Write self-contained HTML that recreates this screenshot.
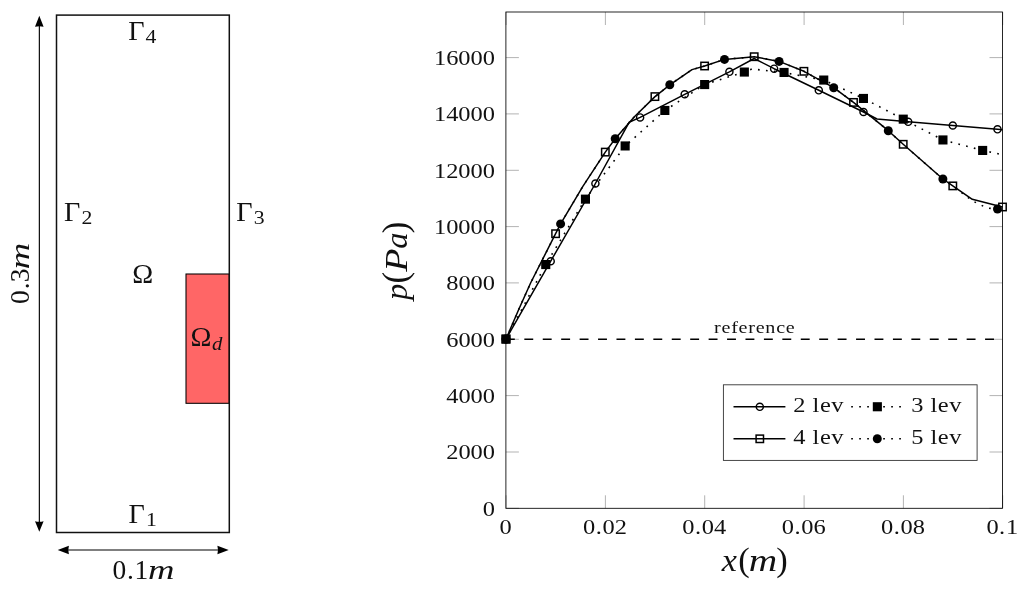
<!DOCTYPE html>
<html><head><meta charset="utf-8"><title>figure</title>
<style>
html,body{margin:0;padding:0;background:#fff;}
svg{display:block;font-family:"Liberation Serif",serif;will-change:transform;}
</style></head><body>
<svg width="1024" height="589" viewBox="0 0 1024 589">
<rect x="0" y="0" width="1024" height="589" fill="#fff"/>

<rect x="186.0" y="274.0" width="43.2" height="129.3" fill="#ff6666" stroke="#000" stroke-width="1.05"/>
<rect x="56.5" y="15.1" width="172.8" height="517.4" fill="none" stroke="#111" stroke-width="1.5"/>
<line x1="39.35" y1="24" x2="39.35" y2="524" stroke="#000" stroke-width="1.15"/>
<path d="M39.3 15.8 L43.6 26.8 Q39.3 25.6 35 26.8 Z" fill="#000"/>
<path d="M39.3 531.8 L43.6 521.2 Q39.3 522.4 35 521.2 Z" fill="#000"/>
<line x1="66" y1="550" x2="220" y2="550" stroke="#000" stroke-width="1.1"/>
<path d="M57.7 550 L68.9 545.7 Q67.7 550 68.9 554.3 Z" fill="#000"/>
<path d="M228.7 550 L217.4 545.7 Q218.6 550 217.4 554.3 Z" fill="#000"/>
<text transform="translate(128.2,40.1) scale(1.0,1)" font-size="28.2" fill="#111">&#915;</text><text transform="translate(145.6,43.1) scale(1.2,1)" font-size="18.1" fill="#111">4</text>
<text transform="translate(64.0,221.0) scale(1.0,1)" font-size="28.2" fill="#111">&#915;</text><text transform="translate(81.4,224.0) scale(1.2,1)" font-size="18.1" fill="#111">2</text>
<text transform="translate(236.3,221.0) scale(1.0,1)" font-size="28.2" fill="#111">&#915;</text><text transform="translate(253.7,224.0) scale(1.2,1)" font-size="18.1" fill="#111">3</text>
<text transform="translate(128.5,523.4) scale(1.0,1)" font-size="28.2" fill="#111">&#915;</text><text transform="translate(145.9,526.4) scale(1.2,1)" font-size="18.1" fill="#111">1</text>
<text x="142.85" y="282.7" text-anchor="middle" font-size="28.2" fill="#111">&#937;</text>
<text x="201.1" y="345.6" text-anchor="middle" font-size="28.2" fill="#111">&#937;</text>
<text transform="translate(217.2,349.8) scale(1.1,1)" text-anchor="middle" font-size="18.9" font-style="italic" fill="#111">d</text>
<text transform="translate(29.4,297.1) rotate(-90) scale(0.97,1)" text-anchor="middle" font-size="28.3" fill="#111">0</text>
<text transform="translate(29.4,285.8) rotate(-90) scale(0.97,1)" text-anchor="middle" font-size="28.3" fill="#111">.</text>
<text transform="translate(29.4,275.3) rotate(-90) scale(0.97,1)" text-anchor="middle" font-size="28.3" fill="#111">3</text>
<text transform="translate(29.4,256.1) rotate(-90) scale(1.335,1)" text-anchor="middle" font-size="27.5" font-style="italic" fill="#111">m</text>
<text transform="translate(119.4,578.6) scale(0.97,1)" text-anchor="middle" font-size="28.3" fill="#111">0</text>
<text transform="translate(130.5,578.6) scale(0.97,1)" text-anchor="middle" font-size="28.3" fill="#111">.</text>
<text transform="translate(141.4,578.6) scale(0.97,1)" text-anchor="middle" font-size="28.3" fill="#111">1</text>
<text transform="translate(161.3,578.6) scale(1.335,1)" text-anchor="middle" font-size="27.5" font-style="italic" fill="#111">m</text>
<path d="M506.1 508.3V495.3M506.1 12.0V25.0M605.4 508.3V495.3M605.4 12.0V25.0M704.7 508.3V495.3M704.7 12.0V25.0M804.1 508.3V495.3M804.1 12.0V25.0M903.4 508.3V495.3M903.4 12.0V25.0M1002.7 508.3V495.3M1002.7 12.0V25.0M505.9 508.3H518.9M1002.5 508.3H989.5M505.9 452.0H518.9M1002.5 452.0H989.5M505.9 395.6H518.9M1002.5 395.6H989.5M505.9 339.3H518.9M1002.5 339.3H989.5M505.9 282.9H518.9M1002.5 282.9H989.5M505.9 226.6H518.9M1002.5 226.6H989.5M505.9 170.3H518.9M1002.5 170.3H989.5M505.9 113.9H518.9M1002.5 113.9H989.5M505.9 57.6H518.9M1002.5 57.6H989.5" stroke="#808080" stroke-width="0.6" fill="none"/>
<rect x="505.9" y="12.0" width="496.6" height="496.3" fill="none" stroke="#000" stroke-width="0.85"/>
<text transform="translate(495.0,515.7) scale(1.110,1)" text-anchor="end" font-size="22.0" fill="#111" >0</text>
<text transform="translate(495.0,459.4) scale(1.110,1)" text-anchor="end" font-size="22.0" fill="#111" >2000</text>
<text transform="translate(495.0,403.0) scale(1.110,1)" text-anchor="end" font-size="22.0" fill="#111" >4000</text>
<text transform="translate(495.0,346.7) scale(1.110,1)" text-anchor="end" font-size="22.0" fill="#111" >6000</text>
<text transform="translate(495.0,290.3) scale(1.110,1)" text-anchor="end" font-size="22.0" fill="#111" >8000</text>
<text transform="translate(495.0,234.0) scale(1.110,1)" text-anchor="end" font-size="22.0" fill="#111" >10000</text>
<text transform="translate(495.0,177.7) scale(1.110,1)" text-anchor="end" font-size="22.0" fill="#111" >12000</text>
<text transform="translate(495.0,121.3) scale(1.110,1)" text-anchor="end" font-size="22.0" fill="#111" >14000</text>
<text transform="translate(495.0,65.0) scale(1.110,1)" text-anchor="end" font-size="22.0" fill="#111" >16000</text>
<text transform="translate(505.7,533.7) scale(1.110,1)" text-anchor="middle" font-size="22.0" fill="#111" >0</text>
<text transform="translate(605.0,533.7) scale(1.110,1)" text-anchor="middle" font-size="22.0" fill="#111" >0<tspan dx="0.4">.</tspan><tspan dx="0.7">02</tspan></text>
<text transform="translate(704.3,533.7) scale(1.110,1)" text-anchor="middle" font-size="22.0" fill="#111" >0<tspan dx="0.4">.</tspan><tspan dx="0.7">04</tspan></text>
<text transform="translate(803.7,533.7) scale(1.110,1)" text-anchor="middle" font-size="22.0" fill="#111" >0<tspan dx="0.4">.</tspan><tspan dx="0.7">06</tspan></text>
<text transform="translate(903.0,533.7) scale(1.110,1)" text-anchor="middle" font-size="22.0" fill="#111" >0<tspan dx="0.4">.</tspan><tspan dx="0.7">08</tspan></text>
<text transform="translate(1002.3,533.7) scale(1.110,1)" text-anchor="middle" font-size="22.0" fill="#111" >0<tspan dx="0.4">.</tspan><tspan dx="0.7">1</tspan></text>
<text transform="translate(406.6,227.3) rotate(-90) scale(1.000,1)" text-anchor="middle" font-size="35.0" fill="#111">)</text>
<text transform="translate(406.6,240.5) rotate(-90) scale(1.050,1)" text-anchor="middle" font-size="31.0" font-style="italic" fill="#111">a</text>
<text transform="translate(406.6,260.1) rotate(-90) scale(1.200,1)" text-anchor="middle" font-size="31.5" font-style="italic" fill="#111">P</text>
<text transform="translate(406.6,277.7) rotate(-90) scale(1.000,1)" text-anchor="middle" font-size="35.0" fill="#111">(</text>
<text transform="translate(406.6,291.9) rotate(-90) scale(1.050,1)" text-anchor="middle" font-size="31.0" font-style="italic" fill="#111">p</text>
<text transform="translate(729.3,570.6) scale(1.100,1)" text-anchor="middle" font-size="31.0" font-style="italic" fill="#111">x</text>
<text transform="translate(743.9,570.6) scale(1.000,1)" text-anchor="middle" font-size="34.5" fill="#111">(</text>
<text transform="translate(763.0,570.6) scale(1.270,1)" text-anchor="middle" font-size="31.0" font-style="italic" fill="#111">m</text>
<text transform="translate(782.1,570.6) scale(1.000,1)" text-anchor="middle" font-size="34.5" fill="#111">)</text>
<line x1="505.9" y1="339.3" x2="1002.5" y2="339.3" stroke="#000" stroke-width="1.5" stroke-dasharray="8.9 9.53"/>
<text transform="translate(714.1,333.1) scale(1.280,1)" text-anchor="start" font-size="15.7" fill="#111" textLength="63.0">reference</text>
<polyline points="506.0,339.1 550.7,261.2 595.4,183.5 629.1,122.3 640.1,117.4 684.7,94.3 729.4,71.8 754.2,58.5 774.1,68.7 818.8,90.3 863.5,112.0 877.0,119.0 908.2,121.8 952.8,125.5 997.5,129.3 1002.5,129.7" fill="none" stroke="#000" stroke-width="1.5" stroke-linejoin="round"/>
<polyline points="506.0,339.1 545.7,264.6 585.4,199.1 625.2,146.0 664.9,110.5 704.6,84.5 744.3,72.0 752.0,69.0 784.0,72.5 823.8,80.1 863.5,98.4 903.2,119.2 942.9,140.0 982.6,150.4 1002.5,154.7" fill="none" stroke="#000" stroke-width="1.6" stroke-dasharray="1.7 6.3" stroke-linejoin="round"/>
<polyline points="506.0,339.1 518.5,310.0 530.6,283.0 555.6,233.7 560.6,223.9 582.7,186.6 605.3,152.1 615.2,138.8 634.4,116.7 655.0,96.6 669.8,84.8 692.0,69.6 704.6,66.0 724.5,59.4 754.2,56.7 779.1,61.4 803.9,71.3 833.7,87.7 853.5,102.4 888.3,130.7 903.2,144.3 942.9,179.0 952.8,185.9 972.3,199.3 1002.5,207.0" fill="none" stroke="#000" stroke-width="1.5" stroke-linejoin="round"/>
<polyline points="506.0,339.1 518.5,310.0 530.6,283.0 555.6,233.7 560.6,223.9 582.7,186.6 605.3,152.1 615.2,138.8 634.4,116.7 655.0,96.6 669.8,84.8 692.0,69.6 704.6,66.0 724.5,59.4 754.2,56.7 779.1,61.4 803.9,71.3 833.7,87.7 853.5,102.4 888.3,130.7 903.2,144.3 942.9,179.0 952.8,185.9 972.5,200.9 987.0,208.0 997.5,209.0" fill="none" stroke="#000" stroke-width="1.6" stroke-dasharray="1.7 6.3" stroke-linejoin="round"/>
<circle cx="506.0" cy="339.1" r="3.55" fill="none" stroke="#000" stroke-width="1.45"/>
<circle cx="550.7" cy="261.2" r="3.55" fill="none" stroke="#000" stroke-width="1.45"/>
<circle cx="595.4" cy="183.5" r="3.55" fill="none" stroke="#000" stroke-width="1.45"/>
<circle cx="640.1" cy="117.4" r="3.55" fill="none" stroke="#000" stroke-width="1.45"/>
<circle cx="684.7" cy="94.3" r="3.55" fill="none" stroke="#000" stroke-width="1.45"/>
<circle cx="729.4" cy="71.8" r="3.55" fill="none" stroke="#000" stroke-width="1.45"/>
<circle cx="774.1" cy="68.7" r="3.55" fill="none" stroke="#000" stroke-width="1.45"/>
<circle cx="818.8" cy="90.3" r="3.55" fill="none" stroke="#000" stroke-width="1.45"/>
<circle cx="863.5" cy="112.0" r="3.55" fill="none" stroke="#000" stroke-width="1.45"/>
<circle cx="908.2" cy="121.8" r="3.55" fill="none" stroke="#000" stroke-width="1.45"/>
<circle cx="952.8" cy="125.5" r="3.55" fill="none" stroke="#000" stroke-width="1.45"/>
<circle cx="997.5" cy="129.3" r="3.55" fill="none" stroke="#000" stroke-width="1.45"/>
<rect x="501.4" y="334.5" width="9.1" height="9.1" fill="#000"/>
<rect x="541.2" y="260.0" width="9.1" height="9.1" fill="#000"/>
<rect x="580.9" y="194.6" width="9.1" height="9.1" fill="#000"/>
<rect x="620.6" y="141.4" width="9.1" height="9.1" fill="#000"/>
<rect x="660.3" y="105.9" width="9.1" height="9.1" fill="#000"/>
<rect x="700.1" y="80.0" width="9.1" height="9.1" fill="#000"/>
<rect x="739.8" y="67.5" width="9.1" height="9.1" fill="#000"/>
<rect x="779.5" y="67.9" width="9.1" height="9.1" fill="#000"/>
<rect x="819.2" y="75.5" width="9.1" height="9.1" fill="#000"/>
<rect x="858.9" y="93.9" width="9.1" height="9.1" fill="#000"/>
<rect x="898.7" y="114.6" width="9.1" height="9.1" fill="#000"/>
<rect x="938.4" y="135.4" width="9.1" height="9.1" fill="#000"/>
<rect x="978.1" y="145.9" width="9.1" height="9.1" fill="#000"/>
<rect x="502.3" y="335.4" width="7.4" height="7.4" fill="none" stroke="#000" stroke-width="1.5"/>
<rect x="551.9" y="230.0" width="7.4" height="7.4" fill="none" stroke="#000" stroke-width="1.5"/>
<rect x="601.6" y="148.4" width="7.4" height="7.4" fill="none" stroke="#000" stroke-width="1.5"/>
<rect x="651.2" y="92.9" width="7.4" height="7.4" fill="none" stroke="#000" stroke-width="1.5"/>
<rect x="700.9" y="62.3" width="7.4" height="7.4" fill="none" stroke="#000" stroke-width="1.5"/>
<rect x="750.5" y="53.0" width="7.4" height="7.4" fill="none" stroke="#000" stroke-width="1.5"/>
<rect x="800.2" y="67.6" width="7.4" height="7.4" fill="none" stroke="#000" stroke-width="1.5"/>
<rect x="849.8" y="98.7" width="7.4" height="7.4" fill="none" stroke="#000" stroke-width="1.5"/>
<rect x="899.5" y="140.6" width="7.4" height="7.4" fill="none" stroke="#000" stroke-width="1.5"/>
<rect x="949.1" y="182.2" width="7.4" height="7.4" fill="none" stroke="#000" stroke-width="1.5"/>
<rect x="998.8" y="203.3" width="7.4" height="7.4" fill="none" stroke="#000" stroke-width="1.5"/>
<circle cx="506.0" cy="339.1" r="4.5" fill="#000"/>
<circle cx="560.6" cy="223.9" r="4.5" fill="#000"/>
<circle cx="615.2" cy="138.8" r="4.5" fill="#000"/>
<circle cx="669.8" cy="84.8" r="4.5" fill="#000"/>
<circle cx="724.5" cy="59.4" r="4.5" fill="#000"/>
<circle cx="779.1" cy="61.4" r="4.5" fill="#000"/>
<circle cx="833.7" cy="87.7" r="4.5" fill="#000"/>
<circle cx="888.3" cy="130.7" r="4.5" fill="#000"/>
<circle cx="942.9" cy="179.0" r="4.5" fill="#000"/>
<circle cx="997.5" cy="209.0" r="4.5" fill="#000"/>
<rect x="723.4" y="384.8" width="253.7" height="75.6" fill="#fff" stroke="#333" stroke-width="0.9"/>
<line x1="733.5" y1="406.8" x2="785.4" y2="406.8" stroke="#000" stroke-width="1.5"/>
<line x1="733.5" y1="438.8" x2="785.4" y2="438.8" stroke="#000" stroke-width="1.5"/>
<line x1="851.2" y1="406.8" x2="903.2" y2="406.8" stroke="#000" stroke-width="1.6" stroke-dasharray="1.7 6.3"/>
<line x1="851.2" y1="438.8" x2="903.2" y2="438.8" stroke="#000" stroke-width="1.6" stroke-dasharray="1.7 6.3"/>
<circle cx="759.8" cy="406.8" r="3.55" fill="none" stroke="#000" stroke-width="1.45"/>
<rect x="756.1" y="435.1" width="7.4" height="7.4" fill="none" stroke="#000" stroke-width="1.5"/>
<rect x="872.8" y="402.2" width="9.1" height="9.1" fill="#000"/>
<circle cx="877.3" cy="438.8" r="4.5" fill="#000"/>
<text transform="translate(793.3,411.9) scale(1.110,1)" text-anchor="start" font-size="22.0" fill="#111" textLength="45.2">2 lev</text>
<text transform="translate(793.3,443.9) scale(1.110,1)" text-anchor="start" font-size="22.0" fill="#111" textLength="45.2">4 lev</text>
<text transform="translate(911.2,411.9) scale(1.110,1)" text-anchor="start" font-size="22.0" fill="#111" textLength="45.2">3 lev</text>
<text transform="translate(911.2,443.9) scale(1.110,1)" text-anchor="start" font-size="22.0" fill="#111" textLength="45.2">5 lev</text>
</svg></body></html>
